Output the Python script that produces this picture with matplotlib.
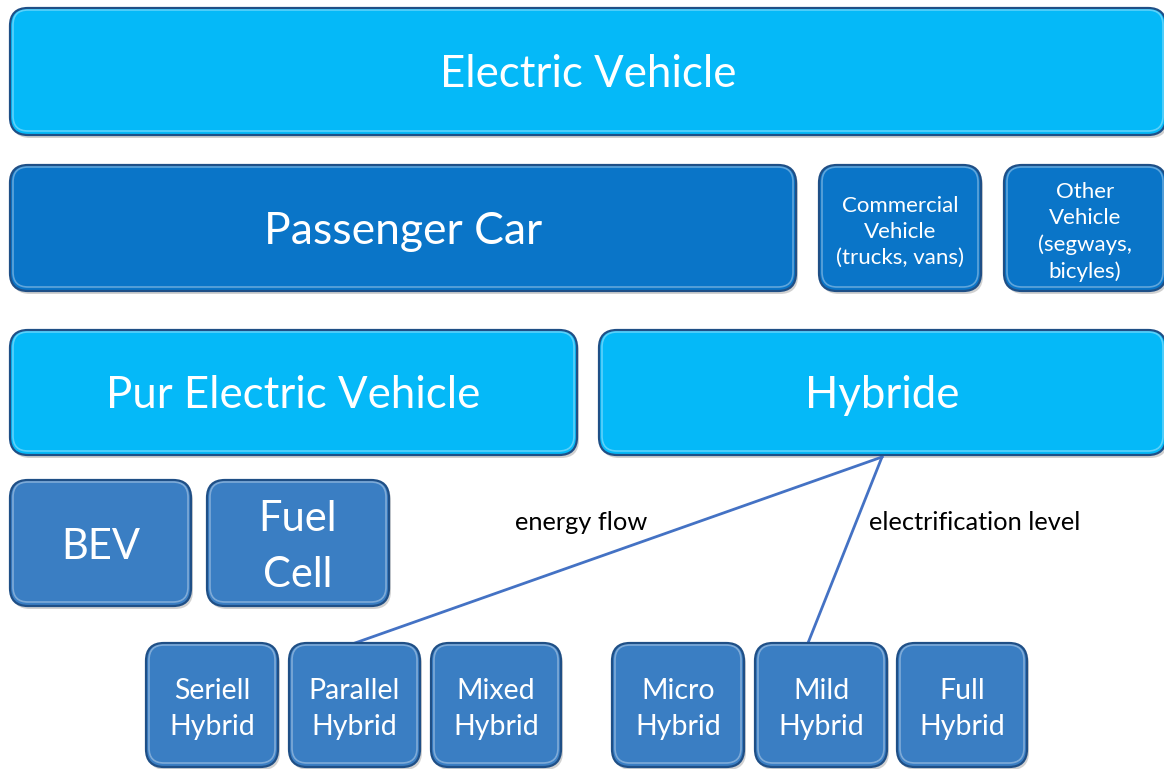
import matplotlib.pyplot as plt
from matplotlib.patches import FancyBboxPatch

plt.rcParams['font.family'] = ['Lato', 'DejaVu Sans']

# labels of the boxes, row by row
top_labels = ["Electric Vehicle"]
vehicle_labels = ["Passenger Car", "Commercial\nVehicle\n(trucks, vans)", "Other\nVehicle\n(segways,\nbicyles)"]
drive_labels = ["Pur Electric Vehicle", "Hybride"]
pure_labels = ["BEV", "Fuel\nCell"]
flow_labels = ["Seriell\nHybrid", "Parallel\nHybrid", "Mixed\nHybrid"]
level_labels = ["Micro\nHybrid", "Mild\nHybrid", "Full\nHybrid"]
branch_labels = ["energy flow", "electrification level"]

# layout in pixels: (x0, x1) per box, (y0, y1) per row
top_x = [(10, 1166)]
vehicle_x = [(10, 796), (819, 981), (1004, 1166)]
drive_x = [(10, 577), (599, 1166)]
pure_x = [(10, 191), (207, 389)]
flow_x = [(146, 278), (289, 420), (431, 561)]
level_x = [(612, 744), (755, 887), (897, 1027)]

LIGHT = "#05b9f8"
MID = "#0a75c8"
STEEL = "#3a7ec3"
EDGE = "#1f4f86"

fig = plt.figure(figsize=(11.64, 7.69), dpi=100)
ax = fig.add_axes([0, 0, 1, 1])
ax.set_xlim(0, 1164)
ax.set_ylim(769, 0)
ax.axis('off')


def box(x0, x1, y0, y1, color, label, fs, r=18, ls=1.0, dy=3):
    # soft shadow
    sh = FancyBboxPatch((x0 + 2, y0 + 3), x1 - x0, y1 - y0,
                        boxstyle=f"round,pad=0,rounding_size={r}",
                        fc="#000000", ec="none", alpha=0.18, zorder=1)
    ax.add_patch(sh)
    p = FancyBboxPatch((x0, y0), x1 - x0, y1 - y0,
                       boxstyle=f"round,pad=0,rounding_size={r}",
                       fc=color, ec=EDGE, lw=1.6, zorder=2)
    ax.add_patch(p)
    # bevel highlight along the top
    hl = FancyBboxPatch((x0 + 3, y0 + 2), x1 - x0 - 6, y1 - y0 - 6,
                        boxstyle=f"round,pad=0,rounding_size={r - 3}",
                        fc="none", ec="white", lw=1.2, alpha=0.35, zorder=3)
    ax.add_patch(hl)
    ax.text((x0 + x1) / 2, (y0 + y1) / 2 + dy, label, ha='center', va='center',
            color='white', fontsize=fs, linespacing=ls, zorder=4)


for lab, (x0, x1) in zip(top_labels, top_x):
    box(x0, x1, 8, 135, LIGHT, lab, 31.5, dy=3)

fs_vehicle = [32, 16, 16]
for lab, (x0, x1), fs in zip(vehicle_labels, vehicle_x, fs_vehicle):
    box(x0, x1, 165, 291, MID, lab, fs, ls=1.38, dy=4)

for lab, (x0, x1) in zip(drive_labels, drive_x):
    box(x0, x1, 330, 455, LIGHT, lab, 31.5, dy=3)

for lab, (x0, x1) in zip(pure_labels, pure_x):
    box(x0, x1, 480, 606, STEEL, lab, 30, ls=1.6, dy=4)

for lab, (x0, x1) in zip(flow_labels + level_labels, flow_x + level_x):
    box(x0, x1, 643, 767, STEEL, lab, 20.5, ls=1.5, dy=4)

# branch lines from the Hybride box
hub = (882, 457)
ax.plot([hub[0], 355], [hub[1], 643], color="#4472c4", lw=2, zorder=1.5)
ax.plot([hub[0], 808], [hub[1], 643], color="#4472c4", lw=2, zorder=1.5)
ax.text(581, 522, branch_labels[0], ha='center', va='center', fontsize=18.3, color='black')
ax.text(975, 522, branch_labels[1], ha='center', va='center', fontsize=18.3, color='black')

fig.savefig("out.png", dpi=100)
